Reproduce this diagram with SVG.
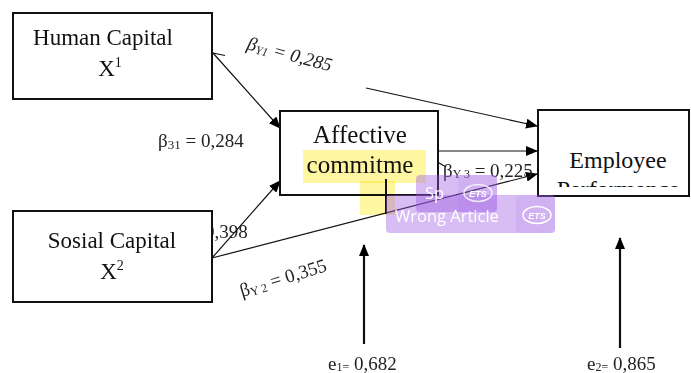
<svg xmlns="http://www.w3.org/2000/svg" width="691" height="373" viewBox="0 0 691 373">
<defs>
<marker id="ah" viewBox="0 0 12 10" refX="11" refY="5" markerWidth="12" markerHeight="10" markerUnits="userSpaceOnUse" orient="auto">
<path d="M0,0 L12,5 L0,10 z" fill="#000"/>
</marker>
<clipPath id="perfClip"><rect x="540" y="112" width="148" height="75"/></clipPath>
<style>
.box{fill:#fff;stroke:#111;stroke-width:2}
.nl{font-family:"Liberation Serif","Times New Roman",serif;fill:#111;text-anchor:middle}
.el{font-family:"Liberation Serif","Times New Roman",serif;fill:#222;font-size:19px}
.ln{stroke:#111;stroke-width:1.2;fill:none}
.ar{stroke:#111;stroke-width:1.2;fill:none;marker-end:url(#ah)}
.arb{stroke:#111;stroke-width:2.2;fill:none;marker-end:url(#ah)}
.hl{fill:#fff27a;opacity:0.7;mix-blend-mode:multiply}
.wm{fill:#9b59e0;opacity:0.4}
.wml{fill:#9b59e0;opacity:0.12}
.wmt{font-family:"Open Sans","Noto Sans",sans-serif;fill:#fff;font-size:16.5px}
.ets{font-family:"Liberation Sans",Arial,sans-serif;fill:#fff;font-size:9px;font-weight:bold;font-style:italic;text-anchor:middle}
</style>
</defs>
<rect width="691" height="373" fill="#fff"/>

<g id="connectors">
<line class="ar" x1="213" y1="53" x2="280" y2="128"/>
<line class="ln" x1="213" y1="53" x2="225" y2="55.5"/>
<line class="ar" x1="212" y1="258" x2="280" y2="181"/>
<line class="ar" x1="212" y1="258" x2="537" y2="174"/>
<line class="ar" x1="366" y1="88" x2="537" y2="126"/>
<line class="ar" x1="438" y1="151" x2="537" y2="151"/>
<line class="ln" x1="415" y1="149" x2="446" y2="167"/>
<line class="arb" x1="364" y1="344" x2="364" y2="245"/>
<line class="arb" x1="620" y1="348" x2="620" y2="238"/>
</g>

<g id="edge-labels">
<text class="el" x="158" y="147">β<tspan font-size="13" dy="2">31</tspan><tspan dy="-2"> = 0,284</tspan></text>
<text class="el" x="205" y="238">0,398</text>
<text class="el" font-style="italic" transform="rotate(15 246 49)" x="246" y="49">β<tspan font-size="12" dy="2">Y1</tspan><tspan dy="-2"> = 0,285</tspan></text>
<text class="el" transform="rotate(-17 242 297)" x="242" y="297">β<tspan font-size="12" dy="2">Y 2</tspan><tspan dy="-2"> = 0,355</tspan></text>
<text class="el" x="443" y="177">β<tspan font-size="12" dy="1">Y 3</tspan><tspan dy="-1"> = 0,225</tspan></text>
<text class="el" x="328" y="370">e<tspan font-size="12" dy="1">1=</tspan><tspan dy="-1"> 0,682</tspan></text>
<text class="el" x="587" y="370">e<tspan font-size="12" dy="1">2=</tspan><tspan dy="-1"> 0,865</tspan></text>
</g>

<g id="node-human-capital">
<rect class="box" x="13" y="13" width="199" height="86"/>
<text class="nl" x="103" y="45" font-size="23">Human Capital</text>
<text class="nl" x="110" y="76" font-size="23">X<tspan font-size="14" dy="-9">1</tspan></text>
</g>

<g id="node-sosial-capital">
<rect class="box" x="13" y="211" width="199" height="91"/>
<text class="nl" x="112" y="248" font-size="23">Sosial Capital</text>
<text class="nl" x="112" y="279" font-size="23">X<tspan font-size="14" dy="-9">2</tspan></text>
</g>

<g id="node-affective">
<rect class="box" x="280" y="111" width="158" height="84"/>
<rect class="hl" x="303" y="150" width="123" height="33"/>
<text class="nl" x="360" y="143" font-size="25">Affective</text>
<text class="nl" x="360" y="173" font-size="25" fill="#2a2a10">commitme</text>
<rect class="hl" x="360" y="181" width="35" height="34"/>
<line x1="386" y1="179" x2="386" y2="214" stroke="#111" stroke-width="2"/>
</g>

<g id="node-employee">
<rect class="box" x="538" y="110" width="151" height="86"/>
<text class="nl" x="618" y="168" font-size="24">Employee</text>
<text class="nl" x="618" y="197" font-size="24" clip-path="url(#perfClip)">Performance</text>
</g>

<g id="watermark">
<rect class="wm" x="416" y="175" width="81" height="37" rx="4"/>
<rect class="wml" x="458" y="175" width="39" height="37" rx="4"/>
<rect class="wm" x="386" y="195" width="169" height="38" rx="4"/>
<rect class="wml" x="516" y="195" width="39" height="38" rx="4"/>
<text class="wmt" x="425" y="199">Sp</text>
<text class="wmt" x="395" y="222">Wrong Article</text>
<ellipse cx="478" cy="193" rx="14" ry="8.5" fill="none" stroke="#fff" stroke-width="1.5" opacity="0.8"/>
<text class="ets" x="478" y="196.5">ETS</text>
<ellipse cx="537" cy="215" rx="14" ry="8.5" fill="none" stroke="#fff" stroke-width="1.5"/>
<text class="ets" x="537" y="218.5">ETS</text>
</g>
</svg>
